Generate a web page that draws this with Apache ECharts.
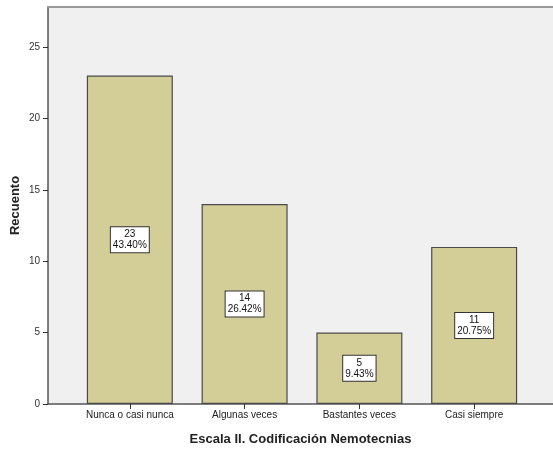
<!DOCTYPE html>
<html>
<head>
<meta charset="utf-8">
<script src="https://cdn.jsdelivr.net/npm/echarts@6/dist/echarts.min.js"></script>
<style>
  html, body { margin: 0; padding: 0; background: #fff; }
  #chart { width: 553px; height: 450px; }
</style>
</head>
<body>
<div id="chart"></div>
<script>
const categories = ['Nunca o casi nunca', 'Algunas veces', 'Bastantes veces', 'Casi siempre']
const counts = [23, 14, 5, 11]
const percents = ['43.40%', '26.42%', '9.43%', '20.75%']
const yTicks = [0, 5, 10, 15, 20, 25]

const chart = echarts.init(document.getElementById('chart'))
const positions = categories.map((c, i) => i)

const option = {
  animation: false,
  textStyle: { fontFamily: 'Liberation Sans, Arial, sans-serif' },
  grid: {
    left: 48, top: 7, right: 0, bottom: 46,
    containLabel: false,
    outerBoundsMode: 'none',
    show: true, backgroundColor: '#f0f0f0', borderWidth: 0
  },
  xAxis: [{
    type: 'value',
    min: -0.713,
    max: 3.687,
    name: 'Escala II. Codificación Nemotecnias',
    nameLocation: 'middle',
    nameGap: 29,
    nameTextStyle: { fontSize: 13, fontWeight: 'bold', color: '#222' },
    axisLine: { show: true, onZero: false, lineStyle: { color: '#555', width: 1.5 } },
    axisTick: { show: true, customValues: positions, length: 5, lineStyle: { color: '#333' } },
    axisLabel: {
      customValues: positions,
      formatter: v => categories[Math.round(v)] || '',
      fontSize: 10, color: '#222', margin: 6
    },
    splitLine: { show: false }
  }, {
    type: 'value',
    position: 'top',
    min: -0.713,
    max: 3.687,
    axisLine: { show: true, onZero: false, lineStyle: { color: '#999', width: 2 } },
    axisTick: { show: false },
    axisLabel: { show: false },
    splitLine: { show: false }
  }],
  yAxis: {
    type: 'value',
    min: 0,
    max: 27.8,
    name: 'Recuento',
    nameLocation: 'middle',
    nameGap: 26,
    nameMoveOverlap: false,
    nameTextStyle: { fontSize: 13, fontWeight: 'bold', color: '#222' },
    axisLine: { show: true, onZero: false, lineStyle: { color: '#555', width: 1.5 } },
    axisTick: { show: true, customValues: yTicks, length: 5, lineStyle: { color: '#333' } },
    axisLabel: {
      customValues: yTicks,
      fontSize: 10, color: '#333', margin: 8
    },
    splitLine: { show: false }
  },
  series: [{
    type: 'bar',
    xAxisIndex: 0,
    barWidth: 86,
    data: counts.map((v, i) => [positions[i], v]),
    itemStyle: { color: '#d3ce98', borderColor: '#4a4a4a', borderWidth: 1.2 },
    label: {
      show: true,
      position: 'inside',
      formatter: p => counts[p.dataIndex] + '\n' + percents[p.dataIndex],
      fontSize: 10,
      lineHeight: 11,
      color: '#111',
      backgroundColor: '#fff',
      borderColor: '#333',
      borderWidth: 1,
      padding: [2, 2, 1, 2],
      align: 'center'
    }
  }]
}

chart.setOption(option)
</script>
</body>
</html>
